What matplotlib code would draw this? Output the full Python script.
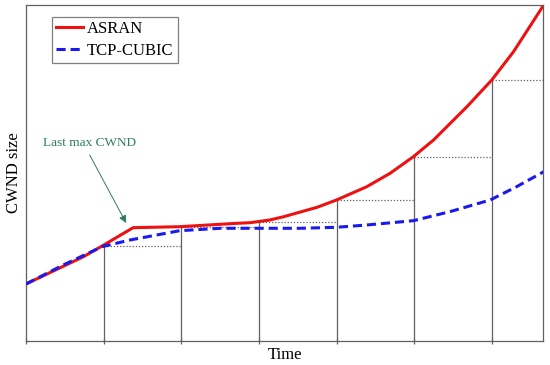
import matplotlib
matplotlib.use('Agg')
import matplotlib.pyplot as plt

plt.rcParams['font.family'] = ['Liberation Serif', 'DejaVu Serif']

# time in RTT units, window in arbitrary units
asran_t = [0, 0.74, 0.98, 1.38, 1.98, 2.72, 2.89, 3.14, 3.32, 3.75, 4.0, 4.39,
           4.69, 4.99, 5.25, 5.68, 6.0, 6.28, 6.65]
asran_w = [57, 84.3, 95, 113.3, 114.3, 117.7, 118.3, 121, 124.3, 133.7, 141,
           154.3, 167.7, 184.3, 201, 234.3, 261, 289.3, 333.7]

cubic_t = [0, 0.48, 0.98, 1.34, 1.98, 2.5, 3.14, 3.53, 4.0, 4.39, 4.99, 5.46,
           5.98, 6.32, 6.67]
cubic_w = [57, 76, 94.3, 101, 110.3, 112.7, 112.7, 112.7, 113.7, 116, 120.3,
           129.3, 141, 154.3, 169.3]

# red window value at each tick (top of vertical line / level of dotted line)
ticks = [0, 1, 2, 3, 4, 5, 6]
tick_w = [57, 95, 114, 119, 141, 184, 261]
x_max = 6.66

fig = plt.figure(figsize=(5.5, 3.65), dpi=100)
ax = fig.add_axes([0.0473, 0.0658, 0.94, 0.9205])

grey = '#606060'

# vertical lines and dotted levels
for i in range(1, len(ticks)):
    ax.plot([ticks[i], ticks[i]], [0, tick_w[i]], color=grey, lw=0.9, zorder=1)
    x_end = ticks[i + 1] if i + 1 < len(ticks) else x_max
    ax.plot([ticks[i], x_end], [tick_w[i], tick_w[i]], color=grey, lw=0.9,
            linestyle=(0, (1, 1.5)), zorder=1)

ax.plot(asran_t, asran_w, color='#ee1111', lw=2.2, label='ASRAN', zorder=3,
        solid_joinstyle='round')
ax.plot(cubic_t, cubic_w, color='#1a1aee', lw=2.2, linestyle=(0, (3, 1.6)),
        label='TCP-CUBIC', zorder=4)

# annotation
ax.text(0.22, 198, 'Last max CWND', color='#2e7d5b', fontsize=9.5,
        va='center', ha='left')
ax.annotate('', xy=(1.29, 118), xytext=(0.82, 186),
            arrowprops=dict(arrowstyle='-|>', color='#2e7d5b', lw=0.7,
                            mutation_scale=11, shrinkA=0, shrinkB=0))

ax.set_xlim(0, x_max)
ax.set_ylim(0, 336)
ax.set_xticks(ticks)
ax.set_xticklabels([])
ax.set_yticks([])
ax.tick_params(axis='x', direction='inout', length=5, width=0.9, color=grey)
for s in ax.spines.values():
    s.set_color(grey)
    s.set_linewidth(0.9)

ax.set_xlabel('Time', fontsize=12, labelpad=-1.5)
ax.set_ylabel('CWND size', fontsize=12, labelpad=3)

leg = ax.legend(loc='upper left', bbox_to_anchor=(0.05, 0.965), fontsize=12,
                frameon=True, fancybox=False, handlelength=1.6,
                handletextpad=0.25, borderpad=0.25, labelspacing=0.35,
                borderaxespad=0)
leg.get_frame().set_edgecolor(grey)
leg.get_frame().set_linewidth(0.9)

plt.savefig('out.png', dpi=100)
